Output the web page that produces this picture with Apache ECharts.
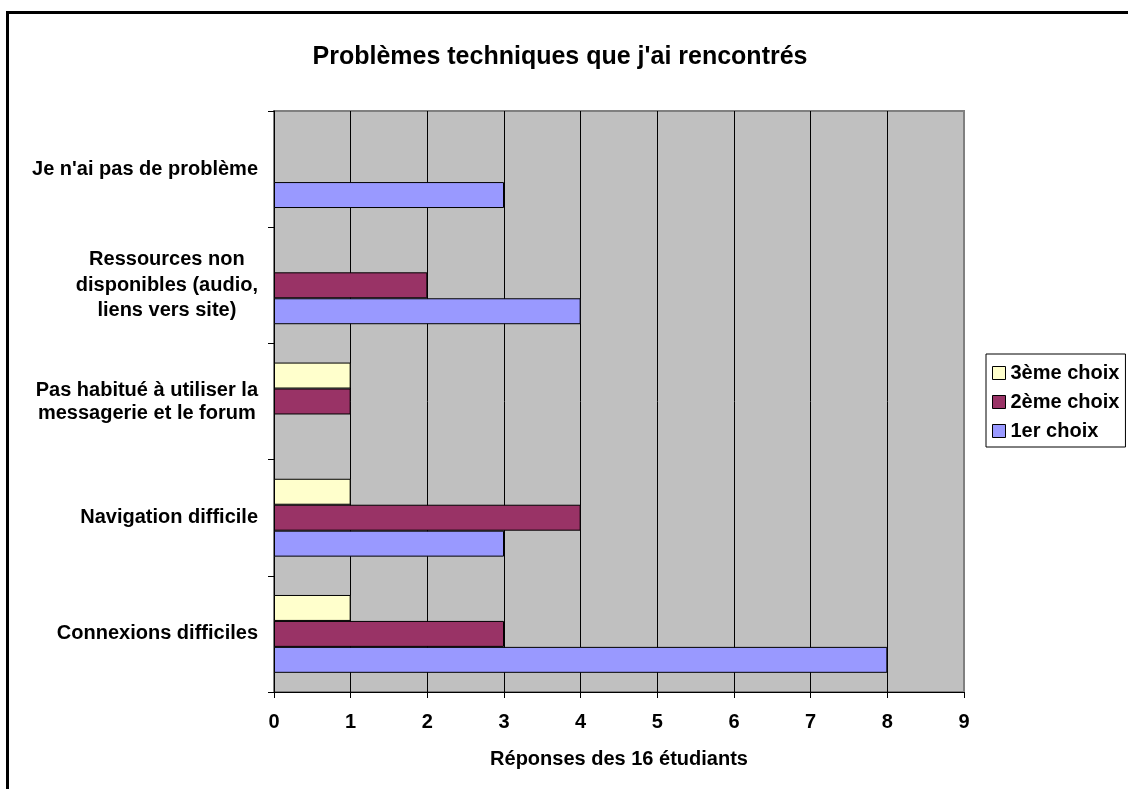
<!DOCTYPE html>
<html>
<head>
<meta charset="utf-8">
<script src="https://cdn.jsdelivr.net/npm/echarts@6/dist/echarts.min.js"></script>
<style>
  html, body { margin: 0; padding: 0; background: #fff; }
  #chart { width: 1128px; height: 789px; }
</style>
</head>
<body>
<div id="chart"></div>
<script>
// Categories, bottom to top (as drawn on the category axis)
const categories = [
  "Connexions difficiles",
  "Navigation difficile",
  "Pas habitué à utiliser la\nmessagerie et le forum",
  "Ressources non\ndisponibles (audio,\nliens vers site)",
  "Je n'ai pas de problème"
];
const seriesNames = ["3ème choix", "2ème choix", "1er choix"];
const choix3 = [1, 1, 1, null, null];
const choix2 = [3, 4, 1, 2, null];
const choix1 = [8, 3, null, 4, 3];
const xTicks = [0, 1, 2, 3, 4, 5, 6, 7, 8, 9];
const titleText = "Problèmes techniques que j'ai rencontrés";
const xAxisName = "Réponses des 16 étudiants";

const FONT = "'Liberation Sans', Arial, sans-serif";
const chart = echarts.init(document.getElementById('chart'), null, { renderer: 'canvas' });

const baseBar = {
  type: 'bar',
  barGap: '0%',
  barCategoryGap: '33%'
};

const option = {
  animation: false,
  backgroundColor: '#fff',
  textStyle: { fontFamily: FONT },
  title: {
    text: titleText,
    left: 555,
    textAlign: 'center',
    top: 40,
    textStyle: { fontFamily: FONT, fontWeight: 'bold', fontSize: 25, color: '#000' }
  },
  graphic: [{
    type: 'rect',
    shape: { x: 7.5, y: 12.5, width: 1300, height: 900 },
    style: { fill: 'none', stroke: '#000', lineWidth: 3 },
    silent: true
  }],
  legend: {
    orient: 'vertical',
    left: 986,
    top: 354,
    data: seriesNames,
    backgroundColor: '#fff',
    borderColor: '#000',
    borderWidth: 1,
    padding: [9, 6, 6, 6],
    itemWidth: 13,
    itemHeight: 13,
    itemGap: 9,
    icon: 'rect',
    itemStyle: { borderColor: '#000', borderWidth: 1 },
    textStyle: { fontFamily: FONT, fontWeight: 'bold', fontSize: 20, color: '#000' }
  },
  grid: {
    left: 274, right: 164, top: 111, bottom: 97,
    show: true,
    backgroundColor: '#C0C0C0',
    borderColor: '#808080',
    borderWidth: 2
  },
  xAxis: {
    type: 'value',
    min: xTicks[0],
    max: xTicks[xTicks.length - 1],
    interval: 1,
    name: xAxisName,
    nameLocation: 'middle',
    nameGap: 57,
    nameTextStyle: { fontFamily: FONT, fontWeight: 'bold', fontSize: 20, color: '#000' },
    axisLine: { show: true, lineStyle: { color: '#000', width: 1 } },
    axisTick: { show: true, length: 6, lineStyle: { color: '#000' } },
    axisLabel: { margin: 20, fontFamily: FONT, fontWeight: 'bold', fontSize: 20, color: '#000' },
    splitLine: { show: true, showMaxLine: false, lineStyle: { color: '#000', width: 1 } }
  },
  yAxis: {
    type: 'category',
    data: categories,
    axisLine: { show: true, lineStyle: { color: '#000', width: 1 } },
    axisTick: { show: true, length: 6, lineStyle: { color: '#000' } },
    axisLabel: {
      margin: 16,
      align: 'right',
      fontFamily: FONT, fontWeight: 'bold', fontSize: 20, color: '#000',
      formatter: function (v) {
        const lines = v.split('\n');
        const style = lines.length >= 3 ? 'c3' : (lines.length === 2 ? 'c2' : 'c1');
        return lines.map(l => '{' + style + '|' + l + '}').join('\n');
      },
      rich: {
        c1: { align: 'center', fontFamily: FONT, fontWeight: 'bold', fontSize: 20, color: '#000', lineHeight: 24 },
        c2: { align: 'center', fontFamily: FONT, fontWeight: 'bold', fontSize: 20, color: '#000', lineHeight: 23 },
        c3: { align: 'center', fontFamily: FONT, fontWeight: 'bold', fontSize: 20, color: '#000', lineHeight: 25.5 }
      }
    },
    splitLine: { show: false }
  },
  series: [
    Object.assign({}, baseBar, { name: seriesNames[0], data: choix3, itemStyle: { color: '#FFFFCC', borderColor: '#000', borderWidth: 1 } }),
    Object.assign({}, baseBar, { name: seriesNames[1], data: choix2, itemStyle: { color: '#993366', borderColor: '#000', borderWidth: 1 } }),
    Object.assign({}, baseBar, { name: seriesNames[2], data: choix1, itemStyle: { color: '#9999FF', borderColor: '#000', borderWidth: 1 } })
  ]
};
chart.setOption(option);
</script>
</body>
</html>
